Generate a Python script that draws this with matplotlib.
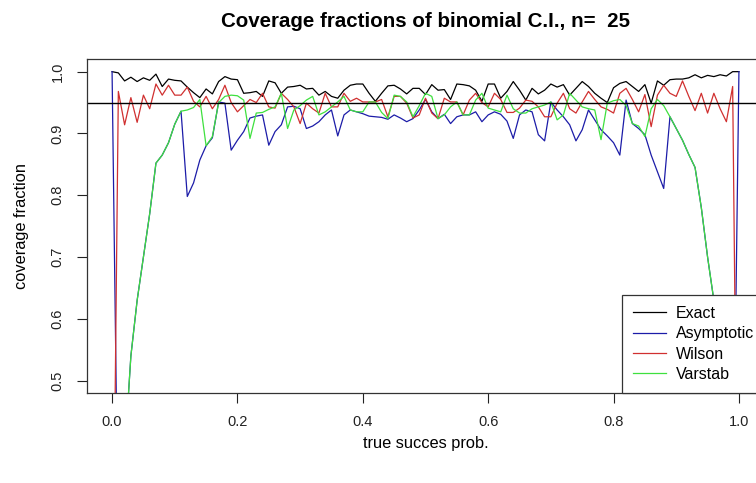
"""
Coverage fractions of binomial confidence intervals, n = 25
(Exact, Asymptotic, Wilson, Varstab), base-R look.
"""
import matplotlib
matplotlib.use("Agg")
import matplotlib.pyplot as plt
import numpy as np

# true success probability grid (step 0.01)
p = np.arange(101) / 100

exact = [
    1.000, 0.998, 0.985, 0.991, 0.984, 0.990, 0.986, 0.996, 0.976, 0.988,
    0.986, 0.985, 0.975, 0.966, 0.958, 0.972, 0.964, 0.984, 0.992, 0.988,
    0.987, 0.965, 0.966, 0.968, 0.960, 0.985, 0.982, 0.965, 0.975, 0.976,
    0.978, 0.972, 0.973, 0.962, 0.968, 0.960, 0.957, 0.970, 0.978, 0.980,
    0.980, 0.965, 0.952, 0.965, 0.977, 0.978, 0.972, 0.964, 0.973, 0.973,
    0.963, 0.979, 0.970, 0.971, 0.955, 0.980, 0.979, 0.977, 0.970, 0.952,
    0.980, 0.980, 0.957, 0.968, 0.984, 0.970, 0.954, 0.973, 0.964, 0.970,
    0.980, 0.975, 0.979, 0.962, 0.973, 0.984, 0.976, 0.965, 0.957, 0.950,
    0.974, 0.981, 0.984, 0.976, 0.968, 0.979, 0.949, 0.985, 0.978, 0.987,
    0.988, 0.988, 0.990, 0.995, 0.990, 0.994, 0.992, 0.995, 0.993, 1.000,
    1.000,
]

asymptotic = [
    1.000, 0.220, 0.380, 0.540, 0.630, 0.700, 0.770, 0.852, 0.865, 0.885,
    0.915, 0.936, 0.798, 0.820, 0.857, 0.880, 0.893, 0.951, 0.949, 0.873,
    0.889, 0.903, 0.925, 0.928, 0.930, 0.881, 0.903, 0.914, 0.943, 0.944,
    0.940, 0.908, 0.912, 0.919, 0.930, 0.938, 0.896, 0.930, 0.938, 0.935,
    0.932, 0.928, 0.927, 0.926, 0.923, 0.930, 0.925, 0.919, 0.924, 0.938,
    0.955, 0.935, 0.924, 0.931, 0.916, 0.927, 0.930, 0.930, 0.935, 0.919,
    0.930, 0.935, 0.931, 0.920, 0.892, 0.930, 0.938, 0.935, 0.898, 0.888,
    0.951, 0.938, 0.927, 0.914, 0.888, 0.906, 0.938, 0.922, 0.906, 0.896,
    0.885, 0.865, 0.954, 0.916, 0.908, 0.898, 0.865, 0.838, 0.811, 0.927,
    0.908, 0.889, 0.866, 0.845, 0.780, 0.700, 0.630, 0.540, 0.380, 0.220,
    1.000,
]

wilson = [
    0.000, 0.968, 0.914, 0.958, 0.918, 0.962, 0.940, 0.980, 0.962, 0.978,
    0.962, 0.962, 0.975, 0.952, 0.943, 0.960, 0.940, 0.955, 0.978, 0.950,
    0.935, 0.945, 0.955, 0.950, 0.965, 0.943, 0.941, 0.965, 0.955, 0.943,
    0.916, 0.949, 0.940, 0.933, 0.965, 0.943, 0.943, 0.965, 0.952, 0.957,
    0.951, 0.951, 0.951, 0.955, 0.927, 0.960, 0.960, 0.949, 0.925, 0.930,
    0.957, 0.933, 0.924, 0.957, 0.951, 0.951, 0.930, 0.954, 0.965, 0.950,
    0.943, 0.965, 0.955, 0.934, 0.934, 0.941, 0.954, 0.952, 0.943, 0.927,
    0.927, 0.949, 0.965, 0.940, 0.933, 0.951, 0.968, 0.955, 0.943, 0.939,
    0.933, 0.965, 0.973, 0.955, 0.935, 0.963, 0.911, 0.962, 0.978, 0.965,
    0.960, 0.985, 0.960, 0.937, 0.965, 0.933, 0.965, 0.940, 0.919, 0.976,
    0.000,
]

varstab = [
    0.000, 0.220, 0.380, 0.540, 0.630, 0.700, 0.770, 0.852, 0.865, 0.885,
    0.915, 0.936, 0.938, 0.942, 0.955, 0.880, 0.895, 0.950, 0.960, 0.962,
    0.961, 0.954, 0.892, 0.933, 0.934, 0.939, 0.943, 0.965, 0.908, 0.938,
    0.945, 0.954, 0.960, 0.930, 0.935, 0.943, 0.951, 0.960, 0.938, 0.935,
    0.935, 0.951, 0.951, 0.934, 0.924, 0.962, 0.960, 0.951, 0.927, 0.945,
    0.965, 0.960, 0.924, 0.930, 0.943, 0.951, 0.930, 0.930, 0.954, 0.965,
    0.941, 0.938, 0.935, 0.962, 0.940, 0.933, 0.933, 0.940, 0.943, 0.946,
    0.951, 0.922, 0.930, 0.965, 0.954, 0.943, 0.940, 0.938, 0.890, 0.949,
    0.953, 0.955, 0.945, 0.916, 0.912, 0.895, 0.940, 0.955, 0.945, 0.927,
    0.908, 0.889, 0.866, 0.845, 0.780, 0.700, 0.630, 0.540, 0.380, 0.220,
    0.000,
]

labels = ["Exact", "Asymptotic", "Wilson", "Varstab"]
colors = ["black", "#1c1ca8", "#d03030", "#3ee03e"]

plt.rcParams["font.family"] = ["Liberation Sans", "DejaVu Sans"]

fig = plt.figure(figsize=(7.56, 4.83), dpi=100)
# plot region runs past the right edge of the picture, as in the reference
ax = fig.add_axes([87 / 756, 90 / 483, 677 / 756, 333.7 / 483])

for ys, c, lab in zip([exact, asymptotic, wilson, varstab], colors, labels):
    ax.plot(p, ys, color=c, linewidth=0.9, label=lab)
ax.axhline(0.95, color="black", linewidth=1.0)

ax.set_xlim(-0.04, 1.04)
ax.set_ylim(0.48, 1.02)
ax.set_xticks([0.0, 0.2, 0.4, 0.6, 0.8, 1.0])
ax.set_yticks([0.5, 0.6, 0.7, 0.8, 0.9, 1.0])
ax.set_xticklabels(["0.0", "0.2", "0.4", "0.6", "0.8", "1.0"])
ax.set_yticklabels(["0.5", "0.6", "0.7", "0.8", "0.9", "1.0"], rotation=90, va="center")
ax.tick_params(axis="both", direction="out", length=7, width=0.8, labelsize=10.5, colors="#222222")
ax.tick_params(axis="x", pad=9)
ax.tick_params(axis="y", pad=9)
for s in ax.spines.values():
    s.set_color("#333333")
    s.set_linewidth(0.9)

ax.set_title("Coverage fractions of binomial C.I., n=  25", fontsize=14.8,
             fontweight="bold", pad=23)
ax.set_xlabel("true succes prob.", fontsize=11.8, labelpad=5)
ax.set_ylabel("coverage fraction", fontsize=11.8, labelpad=16)

leg = ax.legend(loc="lower left", bbox_to_anchor=((622 - 87) / 677, 0.0),
                borderaxespad=0, fontsize=11.5, handlelength=2.05,
                handletextpad=0.6, labelspacing=0.33, borderpad=0.7,
                fancybox=False, framealpha=1)
leg.get_frame().set_edgecolor("#333333")
leg.get_frame().set_linewidth(0.9)

fig.savefig("out.png", dpi=100)
